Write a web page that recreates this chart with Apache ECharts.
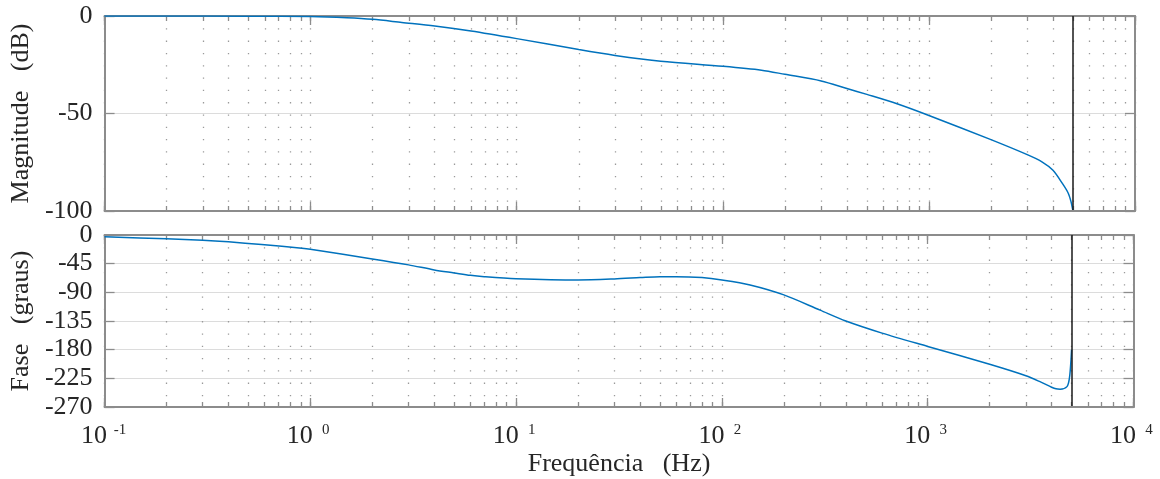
<!DOCTYPE html>
<html>
<head>
<meta charset="utf-8">
<script src="https://cdn.jsdelivr.net/npm/echarts@6/dist/echarts.min.js"></script>
<style>
  html, body { margin: 0; padding: 0; background: #ffffff; }
  #chart { width: 1160px; height: 479px; }
</style>
</head>
<body>
<div id="chart"></div>
<script>
// Frequency response of the discrete-time filter (fs = 10 kHz)
const magFreqHz = [0.1, 0.2, 0.5, 1, 1.5, 2, 2.77, 4, 6, 10, 20, 30, 50, 100, 154, 200, 300, 400, 500, 700, 1000, 2000, 3000, 3550, 4000, 4450, 4750, 4900, 5000];
const magDb     = [0, 0, -0.1, -0.3, -0.9, -1.7, -3.3, -5.1, -7.7, -11.6, -17.2, -20.2, -23.2, -25.8, -27.8, -29.9, -33.3, -37.2, -40.2, -45, -51, -63.4, -71.1, -74.9, -79.1, -86, -91, -95.5, -100];

const phaseFreqHz = [0.1, 0.2, 0.3, 0.4, 0.58, 0.91, 1, 2, 3, 4, 5, 6, 7, 10, 20, 30, 40, 50, 60, 80, 100, 137, 200, 300, 400, 600, 1000, 2000, 3000, 3550, 4000, 4200, 4400, 4750, 4880, 4950, 5000];
const phaseDeg    = [-2.8, -6, -8.2, -10.7, -15, -20.8, -22.4, -37.5, -46.9, -54.8, -59.5, -63.3, -65.4, -68.5, -70.6, -69, -66.9, -65.4, -65.4, -66.9, -70.6, -78.4, -94, -118, -135, -154, -175, -203, -221, -231, -239, -241.5, -242, -238, -225, -204, -180];

const nyquistHz = 5000;

// Axis ranges and tick values
const freqMin = 0.1, freqMax = 10000;
const decadeExps = [-1, 0, 1, 2, 3, 4];
const magTicks = { min: -100, max: 0, step: 50 };
const phaseTicks = { min: -270, max: 0, step: 45 };

// Minor frequency ticks (1..9 per decade), expressed in decades
const minorExps = [];
for (let d = -1; d < 4; d++) {
  for (let m = 1; m <= 9; m++) minorExps.push(d + Math.log10(m));
}
minorExps.push(4);

const SERIF = 'Liberation Serif';
const TEXT = '#262626';
const BOX = '#8c8c8c';
const LINE = '#0072BD';

const grids = [
  { left: 103, top: 16, width: 1032, height: 195 },
  { left: 103, top: 235, width: 1032, height: 172 }
];

function mainX(gridIndex, withLabels) {
  return {
    type: 'log', logBase: 10, gridIndex, position: 'bottom',
    min: freqMin, max: freqMax,
    axisLine: { show: true, onZero: false, lineStyle: { color: BOX, width: 2 } },
    axisTick: { show: false },
    splitLine: { show: false },
    axisLabel: {
      show: withLabels, margin: 16, color: TEXT,
      formatter: v => '{b|10}{s|' + Math.round(Math.log10(v)) + '}',
      rich: {
        b: { fontFamily: SERIF, fontSize: 26, color: TEXT, lineHeight: 26 },
        s: { fontFamily: SERIF, fontSize: 15, color: TEXT, lineHeight: 15, verticalAlign: 'top', width: 16, padding: [0, 0, 0, 5] }
      }
    },
    z: 5
  };
}

// Tick / grid decoration measured in decades on the same grid
function decoX(gridIndex, position, values, len, dotted) {
  return {
    type: 'value', gridIndex, position, min: -1, max: 4, silent: true,
    axisLine: { show: false, onZero: false },
    axisLabel: { show: false },
    axisTick: { show: true, inside: true, length: len, customValues: values, lineStyle: { color: BOX, width: 1.3 } },
    splitLine: { show: dotted, lineStyle: { color: '#9a9a9a', width: 1.3, type: [1.3, 11] } }
  };
}

function topX(gridIndex) {
  return {
    type: 'value', gridIndex, position: 'top', min: -1, max: 4, silent: true,
    axisLine: { show: true, onZero: false, lineStyle: { color: BOX, width: 2 } },
    axisLabel: { show: false },
    axisTick: { show: true, inside: true, length: 9, customValues: decadeExps, lineStyle: { color: BOX, width: 1.3 } },
    splitLine: { show: false }
  };
}

function leftY(gridIndex, r, name) {
  return {
    type: 'value', gridIndex, position: 'left',
    min: r.min, max: r.max, interval: r.step,
    name, nameLocation: 'middle', nameRotate: 90, nameGap: 62,
    nameTextStyle: { fontFamily: SERIF, fontSize: 26, color: TEXT },
    axisLine: { show: true, onZero: false, lineStyle: { color: BOX, width: 2 } },
    axisTick: { show: true, inside: true, length: 10, lineStyle: { color: BOX, width: 1.3 } },
    axisLabel: { fontFamily: SERIF, fontSize: 26, color: TEXT, margin: 12 },
    splitLine: { show: true, lineStyle: { color: '#dcdcdc', width: 1.2 } }
  };
}

function rightY(gridIndex, r) {
  return {
    type: 'value', gridIndex, position: 'right',
    min: r.min, max: r.max, interval: r.step,
    axisLine: { show: true, onZero: false, lineStyle: { color: BOX, width: 2 } },
    axisTick: { show: true, inside: true, length: 10, lineStyle: { color: BOX, width: 1.3 } },
    axisLabel: { show: false },
    splitLine: { show: false }
  };
}

const xAxes = [];
const yAxes = [];
[0, 1].forEach(g => {
  const bottom = mainX(g, g === 1);
  if (g === 1) {
    bottom.name = 'Frequência   (Hz)';
    bottom.nameLocation = 'middle';
    bottom.nameGap = 44;
    bottom.nameTextStyle = { fontFamily: SERIF, fontSize: 26, color: TEXT };
  }
  xAxes.push(bottom);                                   // data axis (log)
  xAxes.push(decoX(g, 'bottom', decadeExps, 9, false)); // major ticks
  xAxes.push(decoX(g, 'bottom', minorExps, 5, true));   // minor ticks + dotted grid
  xAxes.push(topX(g));                                  // top edge, major ticks
  xAxes.push(decoX(g, 'top', minorExps, 5, false));     // top edge, minor ticks
});
yAxes.push(leftY(0, magTicks, 'Magnitude   (dB)'), rightY(0, magTicks));
yAxes.push(leftY(1, phaseTicks, 'Fase   (graus)'), rightY(1, phaseTicks));

const nyquistMark = {
  silent: true, symbol: ['none', 'none'], label: { show: false },
  lineStyle: { color: '#1a1a1a', width: 1.5, type: 'solid' },
  data: [{ xAxis: nyquistHz }]
};

const option = {
  animation: false,
  backgroundColor: '#ffffff',
  grid: grids,
  xAxis: xAxes,
  yAxis: yAxes,
  series: [
    {
      name: 'Magnitude', type: 'line', xAxisIndex: 0, yAxisIndex: 0,
      data: magFreqHz.map((f, i) => [f, magDb[i]]),
      showSymbol: false, smooth: 0.3,
      lineStyle: { color: LINE, width: 1.5 }, itemStyle: { color: LINE },
      markLine: nyquistMark, z: 4
    },
    {
      name: 'Fase', type: 'line', xAxisIndex: 5, yAxisIndex: 2,
      data: phaseFreqHz.map((f, i) => [f, phaseDeg[i]]),
      showSymbol: false, smooth: 0.3,
      lineStyle: { color: LINE, width: 1.5 }, itemStyle: { color: LINE },
      markLine: nyquistMark, z: 4
    }
  ]
};

const chart = echarts.init(document.getElementById('chart'), null, { renderer: 'canvas' });
chart.setOption(option);
</script>
</body>
</html>
